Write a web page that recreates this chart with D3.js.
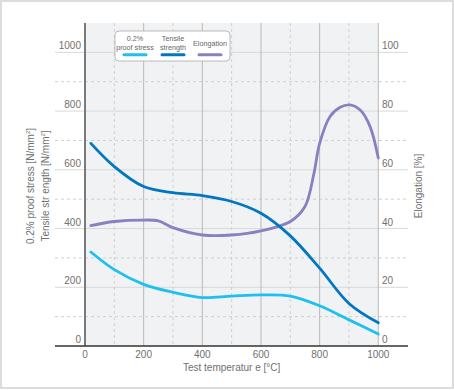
<!DOCTYPE html>
<html><head><meta charset="utf-8">
<script src="https://cdn.jsdelivr.net/npm/d3@7"></script>
<style>body{margin:0;background:#fff;} svg{display:block;font-family:"Liberation Sans",Arial,sans-serif;}</style>
</head><body><svg id="c" width="454" height="390"></svg>
<script>
const proofT = [20, 100, 200, 300, 400, 500, 600, 700, 800, 900, 1000];
const proofV = [320, 260, 210, 183, 165, 170, 174, 170, 137, 89, 41];
const tensileT = [20, 100, 200, 300, 400, 500, 600, 700, 800, 900, 1000];
const tensileV = [690, 611, 543, 522, 512, 492, 452, 375, 265, 145, 79];
const elongT = [20, 100, 200, 250, 300, 400, 500, 600, 700, 750, 780, 800, 835, 870, 903, 940, 972, 1000];
const elongV = [41, 42.4, 42.9, 42.6, 40.3, 37.8, 37.8, 39.2, 42.4, 47.5, 58.5, 69, 78.1, 81.3, 82.1, 80.2, 74.7, 64];
const xTicks = [0, 200, 400, 600, 800, 1000];
const yTicks = [0, 200, 400, 600, 800, 1000];
const yRTicks = [0, 20, 40, 60, 80, 100];
const legendLabels = [["0.2%", "proof stress"], ["Tensile", "strength"], ["Elongation"]];
const colors = ["#1fc0f0", "#0077c0", "#8a7fc0"];

const svg = d3.select("#c");
svg.append("rect").attr("x",1).attr("y",1).attr("width",452).attr("height",387)
  .attr("fill","#fff").attr("stroke","#d2d2d2").attr("stroke-width",1.5);

const x = d3.scaleLinear().domain([0,1000]).range([85,378.3]);
const y = d3.scaleLinear().domain([0,1100]).range([346,23]);
const yR = d3.scaleLinear().domain([0,110]).range([346,23]);

svg.append("rect").attr("x",x(0)).attr("y",y(1100)).attr("width",x(1000)-x(0)).attr("height",y(0)-y(1100)).attr("fill","#f1f2f4");

d3.range(100,1001,100).forEach(v=>{
  const major = v%200===0;
  svg.append("line").attr("x1",55).attr("x2",408).attr("y1",y(v)).attr("y2",y(v))
    .attr("stroke", major?"#d9d9d9":"#d0d0d0").attr("stroke-width",1)
    .attr("stroke-dasharray", major?null:"3,3");
});
d3.range(100,1001,100).forEach(v=>{
  const major = v%200===0;
  svg.append("line").attr("x1",x(v)).attr("x2",x(v)).attr("y1",y(1100)).attr("y2",y(0))
    .attr("stroke", major?"#b9b9b9":"#d0d0d0").attr("stroke-width",1)
    .attr("stroke-dasharray", major?null:"3,3");
});
svg.append("line").attr("x1",x(0)).attr("x2",x(0)).attr("y1",y(1100)).attr("y2",y(0)).attr("stroke","#7a7a7a").attr("stroke-width",2);
svg.append("line").attr("x1",55).attr("x2",408).attr("y1",y(0)).attr("y2",y(0)).attr("stroke","#333").attr("stroke-width",1.3);

const tc = "#707070";
yTicks.forEach(v=>{
  svg.append("text").attr("x",81).attr("y",y(v)-3).attr("text-anchor","end").attr("font-size",10).attr("fill",tc).text(v);
});
yRTicks.forEach(v=>{
  svg.append("text").attr("x",382).attr("y",yR(v)-3).attr("text-anchor","start").attr("font-size",10).attr("fill",tc).text(v);
});
xTicks.forEach(v=>{
  svg.append("text").attr("x",x(v)).attr("y",358).attr("text-anchor","middle").attr("font-size",10).attr("fill",tc).text(v);
});
svg.append("text").attr("x",x(500)).attr("y",371).attr("text-anchor","middle").attr("font-size",10).attr("fill",tc).text("Test temperatur e [°C]");

const cy = 186;
svg.append("text").attr("transform",`translate(34,${cy}) rotate(-90)`).attr("text-anchor","middle").attr("font-size",10).attr("fill",tc)
  .html('0.2% proof stress [N/mm<tspan dy="-4" font-size="6">2</tspan><tspan dy="4">]</tspan>');
svg.append("text").attr("transform",`translate(48.5,${cy}) rotate(-90)`).attr("text-anchor","middle").attr("font-size",10).attr("fill",tc)
  .html('Tensile str ength [N/mm<tspan dy="-4" font-size="6">2</tspan><tspan dy="4">]</tspan>');
svg.append("text").attr("transform",`translate(422,${cy}) rotate(-90)`).attr("text-anchor","middle").attr("font-size",10).attr("fill",tc)
  .text("Elongation  [%]");

const line = d3.line().curve(d3.curveCatmullRom.alpha(0.5));
function draw(T, V, sc, col){
  svg.append("path").attr("d", line(T.map((t,i)=>[x(t), sc(V[i])])))
    .attr("fill","none").attr("stroke",col).attr("stroke-width",2.8).attr("stroke-linecap","round");
}
draw(elongT, elongV, yR, colors[2]);
draw(tensileT, tensileV, y, colors[1]);
draw(proofT, proofV, y, colors[0]);

svg.append("rect").attr("x",115).attr("y",31).attr("width",115).attr("height",30).attr("rx",4)
  .attr("fill","#fff").attr("stroke","#aaa").attr("stroke-width",0.8);
const lcx = [135, 173, 210];
legendLabels.forEach((lab,i)=>{
  if(lab.length===2){
    svg.append("text").attr("x",lcx[i]).attr("y",40.5).attr("text-anchor","middle").attr("font-size",7.2).attr("fill","#666").text(lab[0]);
    svg.append("text").attr("x",lcx[i]).attr("y",49.5).attr("text-anchor","middle").attr("font-size",7.2).attr("fill","#666").text(lab[1]);
  } else {
    svg.append("text").attr("x",lcx[i]).attr("y",46).attr("text-anchor","middle").attr("font-size",7.2).attr("fill","#666").text(lab[0]);
  }
  svg.append("line").attr("x1",lcx[i]-11).attr("x2",lcx[i]+11).attr("y1",54.8).attr("y2",54.8)
    .attr("stroke",colors[i]).attr("stroke-width",3).attr("stroke-linecap","round");
});
</script></body></html>
